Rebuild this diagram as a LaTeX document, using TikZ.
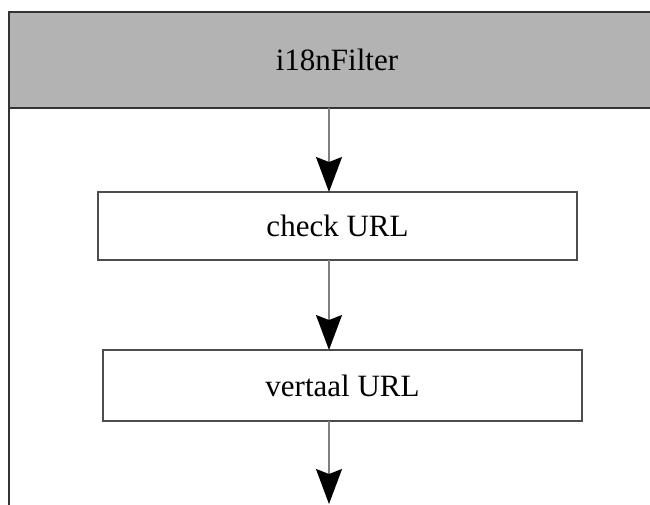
\documentclass[tikz,border=0pt]{standalone}
\usepackage{fontspec}
\setmainfont{Liberation Serif}
\usetikzlibrary{arrows.meta}
\definecolor{frameline}{HTML}{333333}
\definecolor{headfill}{HTML}{B3B3B3}
\definecolor{boxline}{HTML}{4D4D4D}
\definecolor{flowline}{HTML}{808080}
\tikzset{
  lbl/.style={font=\fontsize{31}{37}\selectfont, text=black},
  stepbox/.style={draw=boxline, line width=1.6pt, fill=white, rectangle,
    inner sep=0pt, outer sep=0pt, lbl},
  flow/.style={draw=flowline, line width=1.4pt,
    -{Stealth[length=35pt, width=26pt, inset=5pt, color=black]}},
}
\begin{document}
\begin{tikzpicture}[x=1pt, y=-1pt]
  \useasboundingbox (0,0) rectangle (650,504);
  \clip (0,0) rectangle (650,504);
  % outer frame of the filter, running off the right and bottom edges
  \draw[frameline, line width=1.8pt, fill=white] (9,12) rectangle (680,540);
  % header band
  \node[draw=frameline, line width=1.8pt, fill=headfill, rectangle,
        inner sep=0pt, outer sep=0pt, minimum width=671pt, minimum height=96pt,
        anchor=north west] (hdr) at (9,12) {};
  \node[lbl] (title) at (337,60) {i18nFilter};
  % processing steps
  \node[stepbox, minimum width=479pt, minimum height=68pt] (chk) at (337.5,226) {check URL};
  \node[stepbox, minimum width=479pt, minimum height=71pt] (vrt) at (342.5,385.5) {vertaal URL};
  % flow axis and exit point
  \coordinate (axis) at (329,0);
  \coordinate (out) at (329,504);
  \draw[flow] (hdr.south -| axis) -- (chk.north -| axis);
  \draw[flow] (chk.south -| axis) -- (vrt.north -| axis);
  \draw[flow] (vrt.south -| axis) -- (out);
\end{tikzpicture}
\end{document}
